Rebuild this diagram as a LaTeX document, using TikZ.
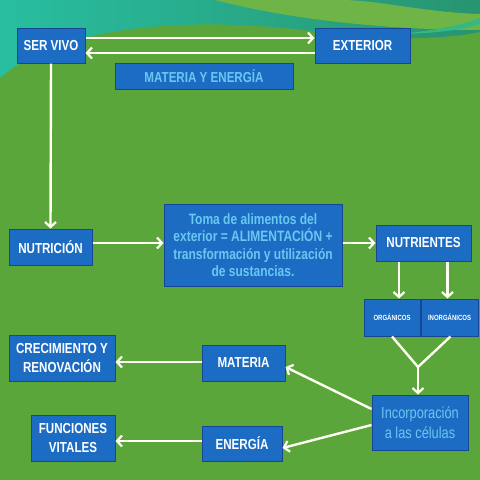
\documentclass[tikz,border=0pt]{standalone}
\usepackage{fontspec}
\setmainfont{Liberation Sans}[FakeStretch=0.8]
\usetikzlibrary{arrows.meta}
\definecolor{fondo}{RGB}{90,166,58}
\definecolor{turquesa}{RGB}{40,148,112}
\definecolor{cian}{RGB}{40,190,160}
\definecolor{brillo}{RGB}{110,180,70}
\definecolor{caja}{RGB}{28,108,196}
\definecolor{borde}{RGB}{24,70,150}
\definecolor{celeste}{RGB}{105,200,240}
\tikzset{
  caja/.style={draw=borde, line width=1pt, fill=caja, text=white, font=\bfseries\fontsize{14.5}{16}\selectfont, align=center, inner sep=2pt},
  flecha/.style={draw=white!95!yellow, line width=2.4pt, -{Straight Barb[length=5pt,width=11pt,line width=2.2pt]}},
  linea/.style={draw=white!95!yellow, line width=2.4pt}
}
\begin{document}
\begin{tikzpicture}[x=1pt,y=-1pt]
    % fondo
    \fill[fondo](0,0) rectangle (480,480);
    \shade[left color=cian, right color=turquesa](0,0)--(0,78) .. controls (60,25) and (190,15) .. (320,32) .. controls (400,42) and (450,38) .. (480,32)--(480,0)--cycle;
    \fill[brillo](215,0) .. controls (300,22) and (400,30) .. (480,30)--(480,14) .. controls (420,12) and (380,0) .. (340,0)--cycle;
    \fill[cian!70!fondo](400,34) .. controls (440,30) and (465,24) .. (480,18)--(480,24) .. controls (460,30) and (440,33) .. (400,34)--cycle;
    \useasboundingbox(0,0) rectangle (480,480);

    % cajas
    \node[caja, minimum width=68pt, minimum height=35pt](servivo) at (51,45.5){SER VIVO};
    \node[caja, minimum width=95pt, minimum height=35pt](exterior) at (362.5,45.5){EXTERIOR};
    \node[caja, minimum width=178pt, minimum height=26pt, text=celeste](materiaenergia) at (204,76){MATERIA Y ENERGÍA};
    \node[caja, minimum width=83pt, minimum height=36pt](nutricion) at (50.5,247){NUTRICIÓN};
    \node[caja, minimum width=178pt, minimum height=82pt, text=celeste, font=\bfseries\fontsize{15}{17.5}\selectfont](toma) at (253,245){Toma de alimentos del\\exterior = ALIMENTACIÓN +\\transformación y utilización\\de sustancias.};
    \node[caja, minimum width=95pt, minimum height=36pt](nutrientes) at (423.5,243){NUTRIENTES};
    \node[caja, minimum width=56pt, minimum height=37pt, font=\bfseries\fontsize{7.5}{9}\selectfont](organicos) at (392,317.5){ORGÁNICOS};
    \node[caja, minimum width=57pt, minimum height=37pt, font=\bfseries\fontsize{7.5}{9}\selectfont](inorganicos) at (449.5,317.5){INORGÁNICOS};
    \node[caja, minimum width=96pt, minimum height=55pt, text=celeste, font=\fontsize{16}{20}\selectfont](incorporacion) at (420,422.5){Incorporación\\a las células};
    \node[caja, minimum width=83pt, minimum height=36pt](materia) at (243.5,363){MATERIA};
    \node[caja, minimum width=80pt, minimum height=35pt](energia) at (242,443.5){ENERGÍA};
    \node[caja, minimum width=106pt, minimum height=46pt, font=\bfseries\fontsize{14.5}{19}\selectfont](crecimiento) at (62,358){CRECIMIENTO Y\\RENOVACIÓN};
    \node[caja, minimum width=84pt, minimum height=46pt, font=\bfseries\fontsize{14.5}{19}\selectfont](funciones) at (73,438){FUNCIONES\\VITALES};
    \coordinate (union) at (418,367);

    % conectores
    \draw[flecha]([yshift=7.5pt]servivo.east)--([yshift=7.5pt]exterior.west);
    \draw[flecha]([yshift=-7.5pt]exterior.west)--([yshift=-7.5pt]servivo.east);
    \draw[flecha](servivo.south)--(nutricion.north);
    \draw[flecha]([yshift=4pt]nutricion.east)--([yshift=2pt]toma.west);
    \draw[flecha]([yshift=2pt]toma.east)--(nutrientes.west);
    \draw[flecha]([xshift=7pt]nutrientes.south-|organicos.north)--([xshift=7pt]organicos.north);
    \draw[flecha]([xshift=-2pt]nutrientes.south-|inorganicos.north)--([xshift=-2pt]inorganicos.north);
    \draw[linea](organicos.south)--(union)--([xshift=1pt]inorganicos.south);
    \draw[flecha](union)--(incorporacion.north-|union);
    \draw[flecha]([yshift=13.5pt]incorporacion.west)--([yshift=-4pt]materia.east);
    \draw[flecha]([yshift=-2.5pt]incorporacion.west)--([yshift=-4.5pt]energia.east);
    \draw[flecha]([yshift=1pt]materia.west)--([yshift=-4pt]crecimiento.east);
    \draw[flecha]([yshift=2.5pt]energia.west)--([yshift=-3pt]funciones.east);
\end{tikzpicture}
\end{document}
